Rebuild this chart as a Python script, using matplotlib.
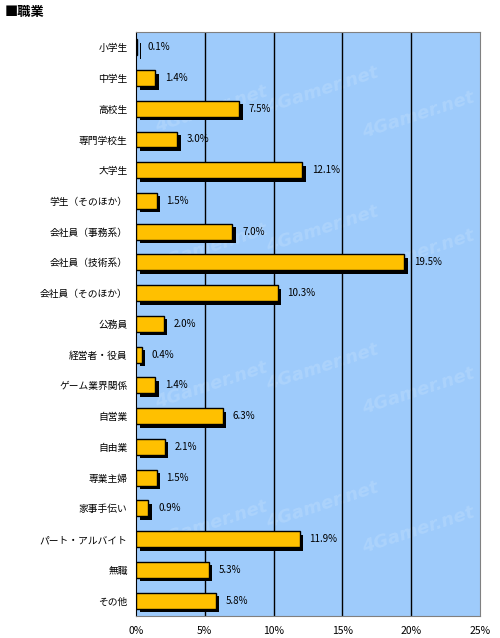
import matplotlib
matplotlib.use("Agg")
import matplotlib.pyplot as plt
from matplotlib.transforms import ScaledTranslation

plt.rcParams['font.family'] = ['Noto Sans CJK JP', 'DejaVu Sans']

categories = ["小学生", "中学生", "高校生", "専門学校生", "大学生", "学生（そのほか）",
              "会社員（事務系）", "会社員（技術系）", "会社員（そのほか）", "公務員",
              "経営者・役員", "ゲーム業界関係", "自営業", "自由業", "専業主婦",
              "家事手伝い", "パート・アルバイト", "無職", "その他"]
values = [0.1, 1.4, 7.5, 3.0, 12.1, 1.5, 7.0, 19.5, 10.3, 2.0,
          0.4, 1.4, 6.3, 2.1, 1.5, 0.9, 11.9, 5.3, 5.8]
xticks = [0, 5, 10, 15, 20, 25]
xtick_labels = ["0%", "5%", "10%", "15%", "20%", "25%"]

fig = plt.figure(figsize=(5, 6.38), dpi=100)
ax = fig.add_axes([0.272, 0.0345, 0.688, 0.9155])
ax.set_facecolor("#9ecbfb")

y = list(range(len(categories)))
# shadow
off = ScaledTranslation(3.5/100, -3.5/100, fig.dpi_scale_trans)
shadow = ax.barh(y, values, height=0.52, left=0, color="black", zorder=2)
for p in shadow:
    p.set_transform(ax.transData + off)
bars = ax.barh(y, values, height=0.52, left=0, color="#ffc000",
               edgecolor="black", linewidth=1.0, zorder=3)

for yi, v in zip(y, values):
    ax.annotate(f"{v:.1f}%", (v, yi), xytext=(7, 0), textcoords="offset points",
                va="center", ha="left", fontsize=7, zorder=4)

# faint watermark
for wx, wy in [(5.5, 2.0), (13.5, 1.4), (20.5, 2.2),
               (5.5, 6.5), (13.5, 5.9), (20.5, 6.7),
               (5.5, 11.0), (13.5, 10.4), (20.5, 11.2),
               (5.5, 15.5), (13.5, 14.9), (20.5, 15.7)]:
    ax.text(wx, wy, "4Gamer.net", fontsize=13, fontweight="bold", style="italic",
            color="#acd3fc", rotation=18, ha="center", va="center", zorder=1,
            family="DejaVu Sans", clip_on=True)

ax.set_xlim(0, 25)
ax.set_ylim(len(categories) - 0.5, -0.5)
ax.set_xticks(xticks)
ax.set_xticklabels(xtick_labels, fontsize=7.5)
ax.set_yticks(y)
ax.set_yticklabels(categories, fontsize=7)
ax.tick_params(axis="both", length=0, pad=6)
ax.tick_params(axis="x", pad=7)
for xv in xticks[1:-1]:
    ax.axvline(xv, color="black", linewidth=1.0, zorder=1.5)
for s in ["top", "right", "bottom"]:
    ax.spines[s].set_color("#808080")
ax.spines["left"].set_color("black")

fig.text(0.01, 0.981, "■職業", fontsize=9.5, fontweight="bold", va="center", ha="left")

fig.savefig("out.png", dpi=100, facecolor="white")
